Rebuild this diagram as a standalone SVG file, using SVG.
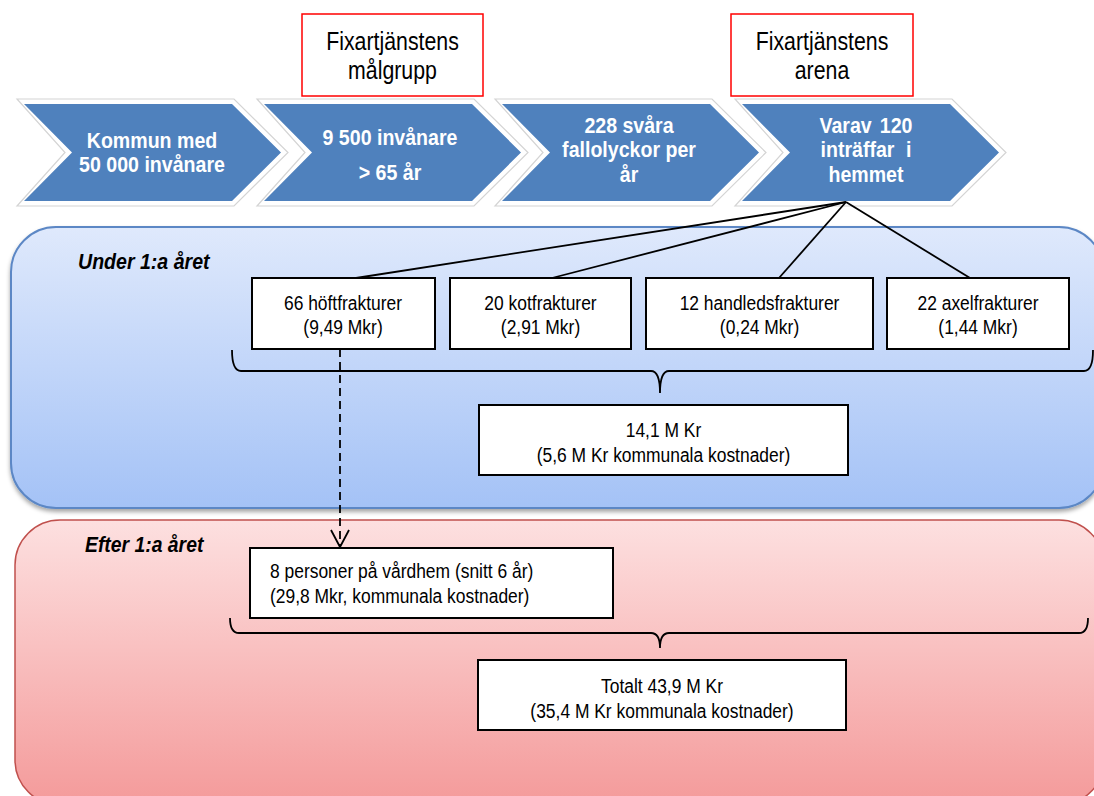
<svg xmlns="http://www.w3.org/2000/svg" width="1094" height="796" viewBox="0 0 1094 796">
<defs>
<linearGradient id="gBlue" x1="0" y1="0" x2="0" y2="1">
<stop offset="0" stop-color="#dfe9fc"/>
<stop offset="1" stop-color="#a4c2f6"/>
</linearGradient>
<linearGradient id="gRed" x1="0" y1="0" x2="0" y2="1">
<stop offset="0" stop-color="#fde0e0"/>
<stop offset="1" stop-color="#f49a9a"/>
</linearGradient>
<filter id="sh" x="-5%" y="-5%" width="110%" height="115%">
<feDropShadow dx="0" dy="3" stdDeviation="2" flood-color="#000" flood-opacity="0.35"/>
</filter>
<path id="chevOuter" d="M-7,99 H210 L264,152.5 L210,206 H-7 L41,152.5 Z"/>
<path id="chevBlue" d="M0,104 H208 L257,152.5 L208,201 H0 L48,152.5 Z"/>
</defs>
<style>
text{font-family:"Liberation Sans",Arial,sans-serif;fill:#000;}
.cw{font-weight:bold;fill:#fff;font-size:22px;text-anchor:middle;}
.box{fill:#fff;stroke:#000;stroke-width:2;}
.rbox{fill:#fff;stroke:#ff0000;stroke-width:1.5;}
.co{fill:#fff;stroke:#d4d4d4;stroke-width:1.2;}
.cb{fill:#4f81bd;}
.bt{font-size:21px;text-anchor:middle;}
.rt{font-size:26px;text-anchor:middle;}
.hd{font-size:22px;font-weight:bold;font-style:italic;}
.ln{stroke:#000;stroke-width:1.8;fill:none;}
</style>

<g id="panel-under">
<rect x="11" y="227" width="1093" height="281" rx="45" ry="45" fill="url(#gBlue)" stroke="#5b87c5" stroke-width="2" filter="url(#sh)"/>
<text class="hd" transform="translate(78,269) scale(0.89,1)">Under 1:a året</text>
</g>
<g id="panel-efter">
<rect x="15" y="520" width="1089" height="285" rx="45" ry="45" fill="url(#gRed)" stroke="#c0504d" stroke-width="1.5"/>
<text class="hd" transform="translate(85,552) scale(0.88,1)">Efter 1:a året</text>
</g>

<g id="label-malgrupp">
<rect class="rbox" x="302" y="14" width="181" height="82"/>
<text class="rt" transform="translate(392.5,50) scale(0.82,1)">Fixartjänstens</text>
<text class="rt" transform="translate(392.5,79) scale(0.82,1)">målgrupp</text>
</g>
<g id="label-arena">
<rect class="rbox" x="731" y="14" width="182" height="82"/>
<text class="rt" transform="translate(822,50) scale(0.82,1)">Fixartjänstens</text>
<text class="rt" transform="translate(822,79) scale(0.82,1)">arena</text>
</g>

<g id="chevron-1" transform="translate(24,0)">
<use href="#chevOuter" class="co"/>
<use href="#chevBlue" class="cb"/>
<text class="cw" transform="translate(128,148) scale(0.89,1)">Kommun med</text>
<text class="cw" transform="translate(128,172) scale(0.89,1)">50 000 invånare</text>
</g>
<g id="chevron-2" transform="translate(264,0)">
<use href="#chevOuter" class="co"/>
<use href="#chevBlue" class="cb"/>
<text class="cw" transform="translate(126,145) scale(0.89,1)">9 500 invånare</text>
<text class="cw" transform="translate(126,180) scale(0.89,1)">&gt; 65 år</text>
</g>
<g id="chevron-3" transform="translate(502,0)">
<use href="#chevOuter" class="co"/>
<use href="#chevBlue" class="cb"/>
<text class="cw" transform="translate(127,133) scale(0.89,1)">228 svåra</text>
<text class="cw" transform="translate(127,157) scale(0.89,1)">fallolyckor per</text>
<text class="cw" transform="translate(127,182) scale(0.89,1)">år</text>
</g>
<g id="chevron-4" transform="translate(742,0)">
<use href="#chevOuter" class="co"/>
<use href="#chevBlue" class="cb"/>
<text class="cw" transform="translate(124,133) scale(0.89,1)" word-spacing="3">Varav 120</text>
<text class="cw" transform="translate(124,157) scale(0.89,1)" word-spacing="7">inträffar i</text>
<text class="cw" transform="translate(124,182) scale(0.89,1)">hemmet</text>
</g>

<g id="connectors">
<line class="ln" x1="846" y1="202" x2="356" y2="278"/>
<line class="ln" x1="846" y1="202" x2="552" y2="278"/>
<line class="ln" x1="846" y1="202" x2="779" y2="278"/>
<line class="ln" x1="846" y1="202" x2="970" y2="278"/>
<path class="ln" d="M232,350 Q232,371 241,371 H651 Q660,371 660,393 Q660,371 669,371 H1084 Q1093,371 1093,350"/>
<path class="ln" d="M230,618 Q230,633 239,633 H651 Q660,633 660,648 Q660,633 669,633 H1079 Q1088,633 1088,618"/>
<line class="ln" x1="340" y1="349" x2="340" y2="545" stroke-dasharray="8,5"/>
<polyline class="ln" points="331,530 340,547 349,530"/>
</g>

<g id="node-hoft">
<rect class="box" x="252" y="278" width="183" height="71"/>
<text class="bt" transform="translate(343,310) scale(0.83,1)">66 höftfrakturer</text>
<text class="bt" transform="translate(343,334) scale(0.83,1)">(9,49 Mkr)</text>
</g>
<g id="node-kot">
<rect class="box" x="450" y="278" width="181" height="71"/>
<text class="bt" transform="translate(540.5,310) scale(0.83,1)">20 kotfrakturer</text>
<text class="bt" transform="translate(540.5,334) scale(0.83,1)">(2,91 Mkr)</text>
</g>
<g id="node-handled">
<rect class="box" x="646" y="278" width="227" height="71"/>
<text class="bt" transform="translate(759.5,310) scale(0.83,1)">12 handledsfrakturer</text>
<text class="bt" transform="translate(759.5,334) scale(0.83,1)">(0,24 Mkr)</text>
</g>
<g id="node-axel">
<rect class="box" x="887" y="278" width="182" height="71"/>
<text class="bt" transform="translate(978,310) scale(0.83,1)">22 axelfrakturer</text>
<text class="bt" transform="translate(978,334) scale(0.83,1)">(1,44 Mkr)</text>
</g>
<g id="node-sum1">
<rect class="box" x="479" y="405" width="369" height="70"/>
<text class="bt" transform="translate(663.5,437) scale(0.83,1)">14,1 M Kr</text>
<text class="bt" transform="translate(663.5,462) scale(0.83,1)">(5,6 M Kr kommunala kostnader)</text>
</g>
<g id="node-vardhem">
<rect class="box" x="250" y="548" width="363" height="70"/>
<text font-size="21" transform="translate(270,578) scale(0.83,1)">8 personer på vårdhem (snitt 6 år)</text>
<text font-size="21" transform="translate(270,603) scale(0.83,1)">(29,8 Mkr, kommunala kostnader)</text>
</g>
<g id="node-total">
<rect class="box" x="478" y="660" width="368" height="70"/>
<text class="bt" transform="translate(662,693) scale(0.83,1)">Totalt 43,9 M Kr</text>
<text class="bt" transform="translate(662,718) scale(0.83,1)">(35,4 M Kr kommunala kostnader)</text>
</g>
</svg>
